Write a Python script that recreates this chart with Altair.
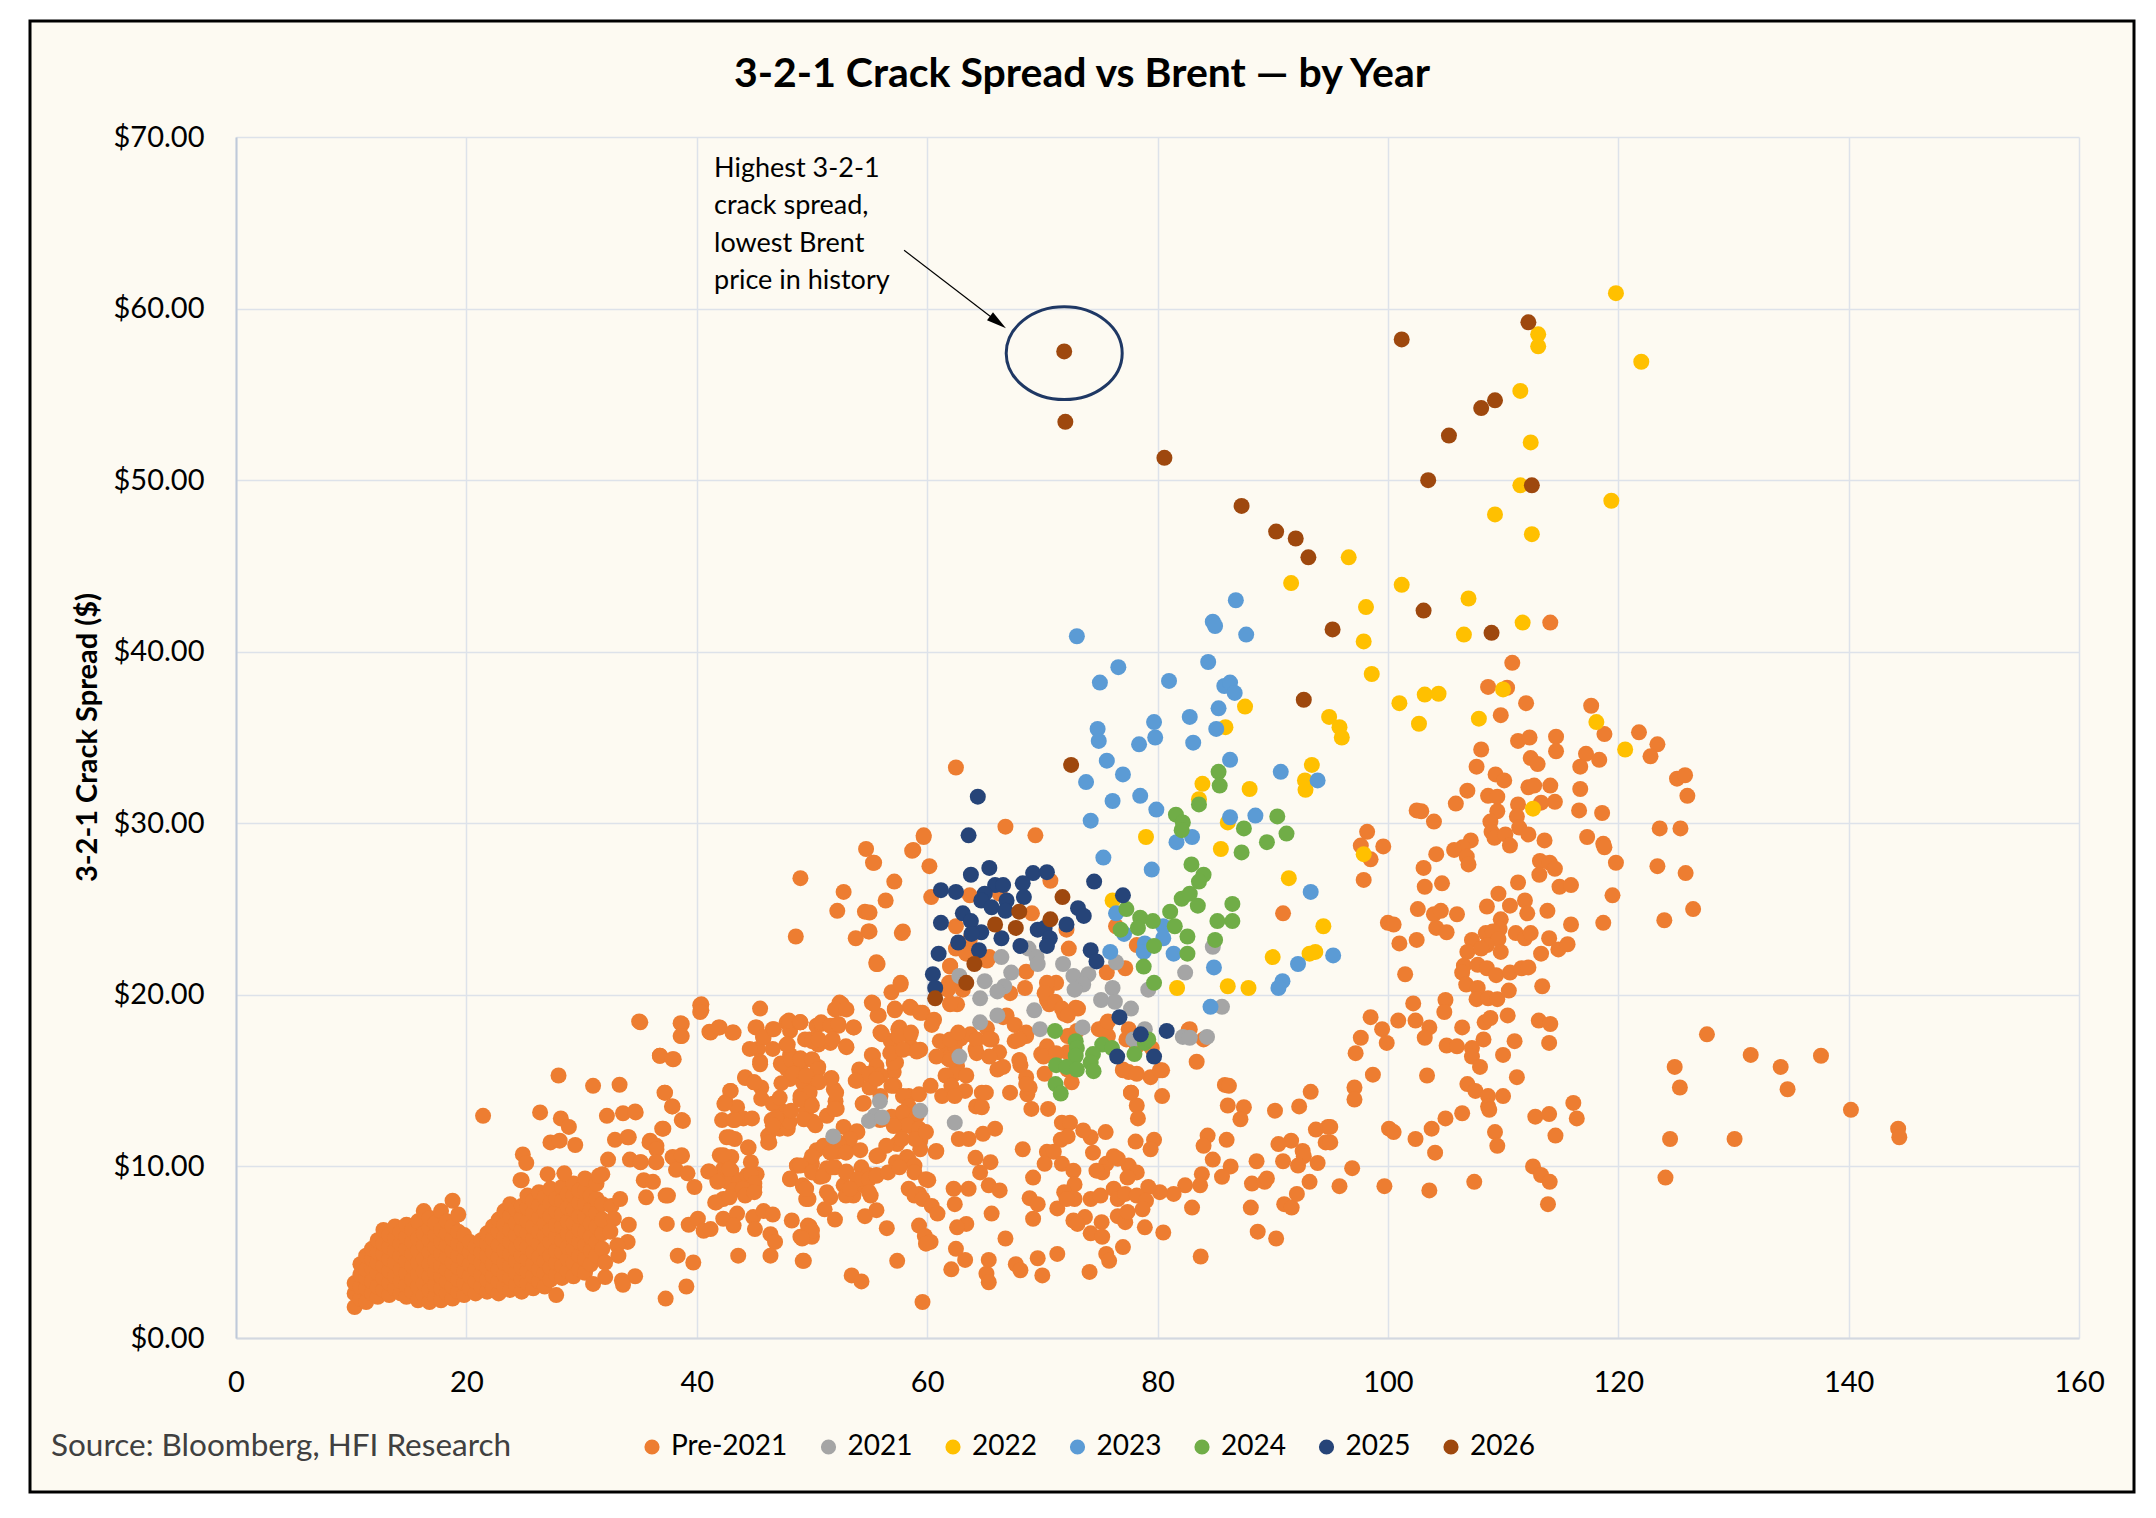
import altair as alt
import pandas as pd

SERIES = ["Pre-2021", "2021", "2022", "2023", "2024", "2025", "2026"]
COLORS = ["#ED7D31", "#A5A5A5", "#FFC000", "#5B9BD5", "#70AD47", "#264478", "#9E480E"]
X_TICKS = [0, 20, 40, 60, 80, 100, 120, 140, 160]
Y_TICKS = [0, 10, 20, 30, 40, 50, 60, 70]
TITLE = "3-2-1 Crack Spread vs Brent — by Year"
SOURCE = "Source: Bloomberg, HFI Research"

# ---- Pre-2021: dense low-price cluster, read column by column (Brent, [crack...])
PRE_BLOB_COLUMNS = [
    (10.3, [1.8, 2.6, 3.2]),
    (10.8, [2.3, 3.0, 3.7, 4.3]),
    (11.3, [2.1, 2.9, 3.5, 4.0, 4.8]),
    (11.8, [2.6, 3.3, 4.1, 4.6, 5.2]),
    (12.3, [2.4, 3.0, 3.8, 4.4, 5.0, 5.7]),
    (12.8, [2.8, 3.5, 4.2, 4.9, 5.5, 6.3]),
    (13.3, [2.5, 3.2, 3.9, 4.6, 5.3, 6.0]),
    (13.8, [2.9, 3.6, 4.4, 5.1, 5.8, 6.5]),
    (14.3, [2.6, 3.3, 4.0, 4.8, 5.5, 6.2]),
    (14.8, [2.4, 3.1, 3.8, 4.5, 5.2, 5.9, 6.6]),
    (15.3, [2.7, 3.4, 4.2, 4.9, 5.6, 6.3]),
    (15.8, [2.2, 3.0, 3.7, 4.4, 5.1, 5.8, 6.8]),
    (16.3, [2.5, 3.2, 3.9, 4.6, 5.4, 6.1, 7.4]),
    (16.8, [2.1, 2.8, 3.6, 4.3, 5.0, 5.7, 6.4, 7.0]),
    (17.3, [2.4, 3.1, 3.8, 4.5, 5.3, 6.0, 6.7]),
    (17.8, [2.2, 2.9, 3.6, 4.2, 4.9, 5.6, 6.3, 7.4]),
    (18.3, [2.6, 3.3, 4.0, 4.7, 5.4, 6.1, 6.8]),
    (18.8, [2.3, 3.0, 3.7, 4.4, 5.1, 5.8, 6.5, 8.0]),
    (19.3, [2.7, 3.4, 4.1, 4.8, 5.5, 6.2, 7.2]),
    (19.8, [2.5, 3.2, 3.9, 4.6, 5.3, 6.0]),
    (20.3, [2.9, 3.6, 4.3, 5.0, 5.6]),
    (20.8, [2.6, 3.3, 4.0, 4.7, 5.3]),
    (21.3, [3.0, 3.7, 4.4, 5.0, 5.7]),
    (21.8, [2.7, 3.4, 4.1, 4.8, 5.5, 6.1]),
    (22.3, [2.9, 3.6, 4.3, 5.0, 5.8, 6.5]),
    (22.8, [2.6, 3.3, 4.0, 4.7, 5.4, 6.2, 6.9]),
    (23.3, [3.0, 3.7, 4.4, 5.1, 5.9, 6.6, 7.4]),
    (23.8, [2.8, 3.5, 4.2, 4.9, 5.6, 6.3, 7.1, 7.8]),
    (24.3, [3.1, 3.8, 4.5, 5.2, 6.0, 6.7, 7.5]),
    (24.8, [2.7, 3.4, 4.1, 4.8, 5.5, 6.3, 7.0, 7.7, 9.2]),
    (25.3, [3.2, 3.9, 4.6, 5.3, 6.1, 6.8, 7.6, 8.3]),
    (25.8, [2.9, 3.6, 4.3, 5.0, 5.8, 6.5, 7.3, 8.0]),
    (26.3, [3.3, 4.0, 4.7, 5.5, 6.2, 7.0, 7.7, 8.5]),
    (26.8, [3.0, 3.8, 4.5, 5.2, 6.0, 6.7, 7.4, 8.2]),
    (27.3, [3.4, 4.1, 4.8, 5.6, 6.3, 7.1, 7.9, 8.7]),
    (27.8, [2.5, 3.7, 4.4, 5.1, 5.9, 6.6, 7.4, 8.1]),
    (28.3, [3.5, 4.2, 5.0, 5.7, 6.5, 7.2, 8.0, 8.8]),
    (28.8, [3.9, 4.6, 5.3, 6.1, 6.8, 7.6, 8.4]),
    (29.3, [3.6, 4.4, 5.2, 5.9, 6.7, 7.5, 8.3, 9.0]),
    (29.8, [4.0, 4.8, 5.6, 6.3, 7.1, 7.9, 8.6]),
    (30.3, [3.8, 4.6, 5.4, 6.2, 7.0, 7.8, 8.6, 9.3]),
    (30.8, [4.3, 5.1, 5.9, 6.7, 7.5, 8.3]),
    (31.3, [4.8, 5.6, 6.5, 7.3, 8.1, 9.0]),
    (31.8, [5.2, 6.1, 6.9, 7.8]),
]

PRE_LEFT = [
    (21.45, 12.95), (28.0, 15.3), (31.0, 14.7), (33.3, 14.76), (26.4, 13.15), (28.2, 12.8),
    (28.9, 12.3), (27.3, 11.4), (28.1, 11.5), (29.45, 11.25), (32.2, 12.95), (33.6, 13.1),
    (34.7, 13.15), (32.9, 11.55), (34.0, 11.7), (35.1, 18.4), (38.7, 18.3), (38.7, 17.6),
    (36.8, 16.45), (38.0, 16.25), (37.25, 14.3), (37.9, 13.5), (38.8, 12.65), (35.95, 11.5),
    (36.5, 11.2), (37.1, 12.2), (24.9, 10.7), (25.2, 10.2), (24.7, 9.2), (27.05, 9.55),
    (28.5, 9.6), (32.3, 10.4), (31.8, 9.55), (31.5, 9.45), (34.2, 10.4), (35.1, 10.25),
    (36.5, 10.25), (38.0, 10.5), (38.7, 10.6), (35.4, 9.2), (36.2, 9.1), (35.6, 8.2),
    (37.5, 8.3), (37.4, 6.65), (39.3, 6.6), (40.1, 6.95), (40.6, 6.25), (41.2, 6.35),
    (38.35, 4.8), (39.7, 4.4), (39.1, 3.0), (37.3, 2.3), (34.65, 3.6), (33.5, 3.35),
    (33.6, 3.1), (31.0, 3.15), (32.05, 3.55), (34.1, 6.6), (34.0, 5.6), (33.1, 5.4),
    (33.2, 4.8), (32.05, 4.4), (32.6, 7.7), (33.35, 8.1), (32.8, 6.95), (32.5, 6.2),
    (40.4, 19.45), (40.4, 19.1), (41.2, 17.8), (42.0, 18.1), (43.2, 17.8), (45.5, 19.2),
    (45.2, 18.1), (46.6, 18.0), (45.8, 17.5), (45.3, 16.85), (46.6, 16.85),
]

PRE_MID_LEFT = [
    (44.6, 16.85), (45.5, 16.1), (44.2, 15.2), (44.95, 14.9), (45.6, 14.6), (42.95, 14.4),
    (42.5, 13.75), (43.5, 13.45), (42.2, 12.7), (43.2, 12.7), (44.05, 12.8), (44.8, 12.8),
    (42.6, 11.7), (43.3, 11.6), (44.5, 11.1), (46.2, 11.4), (42.0, 10.65), (43.0, 10.55),
    (42.3, 9.85), (43.0, 9.75), (44.7, 10.25), (45.2, 9.55), (41.0, 9.7), (41.8, 9.2),
    (42.7, 9.1), (43.7, 9.2), (44.4, 9.5), (41.6, 7.9), (42.3, 8.1), (43.2, 8.6),
    (44.5, 8.7), (45.0, 8.8), (42.3, 6.95), (43.5, 7.25), (44.9, 7.05), (45.8, 7.4),
    (46.6, 7.2), (43.2, 6.55), (45.05, 6.35), (46.4, 6.05), (46.8, 5.6), (43.6, 4.8),
    (46.4, 4.8), (49.2, 4.5), (48.25, 6.85), (49.0, 5.9), (49.8, 6.5), (50.0, 5.9),
    (48.1, 9.25), (49.25, 8.8), (49.7, 8.1), (48.7, 10.05), (49.8, 10.25), (46.2, 11.8),
    (47.2, 12.2), (47.9, 12.2), (48.05, 12.6), (47.35, 13.25), (46.5, 12.7), (47.8, 15.7),
    (49.0, 15.8), (48.1, 16.5), (49.0, 16.3), (47.3, 16.0), (47.8, 18.4), (49.0, 18.4),
    (48.1, 17.9), (49.8, 17.4), (50.4, 18.2), (48.1, 15.1), (49.5, 14.7), (49.0, 14.1),
    (49.8, 13.75),
]

PRE_UPPER_MID = [
    (59.7, 29.3), (58.8, 28.45), (54.7, 28.5), (55.3, 27.7), (60.2, 27.5), (57.15, 26.6),
    (49.0, 26.8), (52.75, 26.0), (56.4, 25.5), (60.35, 25.7), (52.2, 24.9), (54.6, 24.85),
    (48.6, 23.4), (53.8, 23.3), (54.9, 23.7), (57.9, 23.7), (55.6, 21.9), (57.7, 20.7),
    (56.9, 20.15), (62.0, 21.7), (62.5, 22.7), (61.9, 20.7),
    (40.3, 19.4), (40.3, 19.0), (35.0, 18.45), (38.6, 18.35), (38.6, 17.6), (41.1, 17.85),
    (41.9, 18.1), (43.1, 17.8), (45.1, 18.1), (45.75, 17.55), (46.7, 18.0), (48.0, 18.5),
    (48.95, 18.4), (47.8, 17.1), (50.75, 18.3), (51.8, 18.2), (52.4, 19.55), (52.7, 19.2),
    (52.3, 18.2), (53.65, 18.1), (55.3, 19.5), (55.7, 18.8), (57.2, 19.2), (58.5, 19.3),
    (59.6, 18.95), (60.6, 18.55),
    (49.4, 17.4), (50.55, 17.1), (51.6, 17.2), (53.0, 16.95), (56.1, 17.7), (56.85, 17.3),
    (57.6, 18.1), (58.5, 17.6), (58.6, 16.95), (59.4, 16.8), (36.8, 16.45), (37.9, 16.25),
    (47.9, 17.1), (45.5, 15.95), (47.35, 15.95), (48.2, 16.2), (49.1, 16.05), (50.05, 16.2),
    (50.55, 15.8), (55.2, 16.5), (57.3, 16.05), (57.1, 15.5),
    (44.2, 15.15), (45.0, 14.9), (47.35, 14.85), (48.4, 15.4), (49.25, 14.85), (50.25, 15.1),
    (51.7, 15.15), (53.9, 15.0), (54.6, 15.4), (55.9, 15.3), (57.15, 14.7), (55.0, 14.6),
    (42.9, 14.4), (42.4, 13.65), (43.3, 12.7), (37.2, 14.3), (37.85, 13.5), (38.7, 12.7),
    (34.65, 13.2), (45.6, 13.95), (46.6, 13.65), (47.2, 14.0), (48.2, 13.25), (46.9, 12.85),
    (46.6, 12.4), (49.1, 14.1), (49.5, 13.2), (50.1, 12.6), (51.9, 14.5), (52.05, 13.8),
    (52.15, 13.35), (54.4, 13.65), (52.75, 12.3), (53.9, 12.05), (55.9, 12.7), (56.9, 12.9),
    (57.7, 12.4), (58.4, 14.1), (59.3, 14.2), (60.3, 14.7), (61.3, 14.1), (58.85, 13.0),
    (58.3, 13.25), (59.0, 12.1), (59.4, 11.5), (60.8, 10.9),
    (34.1, 11.7), (35.9, 11.4), (37.0, 12.2), (36.5, 11.0), (35.15, 10.25), (36.45, 10.25),
    (37.9, 10.55), (38.7, 10.65), (38.2, 9.8), (39.2, 9.6), (39.8, 8.8), (41.1, 9.7),
    (41.8, 9.1), (42.85, 11.7), (44.45, 11.1), (46.3, 11.4), (42.3, 10.65), (42.85, 9.85),
    (44.7, 9.55), (45.0, 9.0), (44.0, 8.7),
    (48.7, 10.05), (50.0, 10.15), (51.3, 9.9), (52.0, 9.95), (53.0, 9.7), (54.3, 9.95),
    (54.9, 9.5), (55.6, 9.5), (50.4, 10.95), (52.15, 10.85), (53.3, 11.1), (54.2, 10.95),
    (55.8, 10.65), (57.4, 11.3), (58.25, 10.55), (59.4, 11.0), (57.4, 10.15), (48.1, 9.3),
    (49.2, 8.9), (49.5, 8.1), (50.7, 9.4), (51.6, 8.2), (52.75, 8.9), (53.6, 8.3),
    (54.5, 8.9), (55.1, 8.3), (58.4, 8.7), (59.3, 8.4), (60.1, 9.2), (41.7, 7.9),
    (42.85, 8.2), (44.2, 8.3), (45.0, 8.5), (37.3, 8.3),
]

PRE_50_60 = [
    (55.6, 21.8), (57.7, 20.6), (52.6, 19.45), (52.0, 19.15), (53.0, 19.15), (55.2, 19.55),
    (55.8, 18.8), (57.2, 19.15), (58.6, 19.25), (59.4, 18.95), (49.0, 18.4), (50.8, 18.4),
    (51.6, 18.2), (52.3, 18.3), (53.6, 18.1), (50.0, 17.3), (50.6, 17.4), (51.8, 17.4),
    (52.95, 17.0), (55.95, 17.8), (57.5, 18.0), (58.4, 17.7), (56.9, 17.3), (58.6, 16.9),
    (59.1, 16.75), (55.3, 16.45), (57.1, 16.05), (55.6, 15.85), (54.1, 15.65), (54.95, 15.4),
    (55.95, 15.3), (49.0, 16.25), (50.0, 16.25), (50.5, 15.65), (51.6, 15.1), (52.1, 14.3),
    (49.5, 15.3), (50.6, 14.9), (49.8, 14.3), (53.8, 15.0), (55.6, 15.1), (56.9, 14.7),
    (55.95, 14.1), (54.5, 13.7), (57.9, 14.1), (58.4, 13.5), (57.9, 13.15), (59.1, 12.95),
    (58.3, 12.4), (59.3, 12.2), (58.95, 11.6), (59.9, 12.0), (49.0, 13.9), (50.0, 13.55),
    (49.3, 12.75), (50.3, 12.4), (51.3, 12.95), (51.95, 13.35), (53.95, 12.0), (53.3, 11.6),
    (52.3, 11.4), (51.0, 11.2), (50.0, 10.6), (51.6, 10.8), (52.95, 10.8), (56.1, 12.75),
    (57.1, 12.35), (57.8, 11.6), (56.45, 11.2), (55.6, 10.6), (57.3, 10.25), (58.4, 10.4),
    (58.9, 10.05), (49.0, 10.05), (50.0, 9.65), (51.0, 9.45), (51.8, 9.95), (52.95, 9.65),
    (53.95, 9.25), (54.95, 9.25), (55.6, 9.45), (56.6, 9.65), (57.6, 9.95), (58.9, 9.65),
    (59.9, 9.25), (49.5, 8.7), (51.3, 8.5), (52.95, 8.3), (54.95, 8.5), (53.3, 8.7),
    (58.9, 8.3), (59.6, 8.1), (60.4, 7.7), (60.9, 7.25), (51.1, 7.5), (55.6, 7.45),
    (49.65, 6.55), (50.0, 6.25), (49.15, 5.8), (49.3, 4.5), (57.4, 4.5), (53.45, 3.65),
    (54.3, 3.3), (59.6, 2.1), (59.3, 6.55), (59.8, 5.95), (60.3, 5.6), (59.9, 5.5),
    (60.75, 10.85), (52.0, 6.9), (54.6, 7.1), (56.5, 6.4),
]

PRE_60_100 = [
    (62.0, 19.45), (62.6, 19.45), (65.6, 17.4), (66.9, 18.8), (67.6, 17.3), (68.6, 17.6),
    (70.4, 19.7), (70.6, 19.45), (71.9, 18.9), (73.1, 19.2), (75.5, 18.2), (75.7, 17.6),
    (77.5, 18.0), (82.8, 18.0), (83.4, 16.1),
    (85.85, 14.75), (86.2, 14.7), (86.1, 13.55), (87.5, 13.45), (87.2, 12.75), (90.2, 13.25),
    (92.3, 13.5), (93.3, 14.35), (93.75, 12.15), (94.8, 12.3), (94.6, 11.4), (91.6, 11.5),
    (90.5, 11.3), (92.6, 10.9), (92.7, 10.6), (92.2, 10.05), (93.9, 10.2), (88.6, 10.3),
    (90.9, 10.3), (84.35, 11.8), (84.0, 11.2), (86.0, 11.55), (84.8, 10.4), (86.35, 10.0),
    (85.6, 9.4), (83.85, 9.55), (83.7, 8.9), (82.4, 8.9), (81.4, 8.4), (80.2, 8.5),
    (79.2, 8.8), (83.0, 7.6), (88.2, 9.0), (89.3, 9.1), (89.5, 9.3), (88.1, 7.6),
    (91.0, 7.8), (91.65, 7.6), (92.1, 8.4), (93.2, 9.1), (88.7, 6.2), (90.3, 5.8),
    (83.75, 4.75), (80.5, 6.15),
    (78.2, 13.55), (78.3, 12.8), (77.7, 14.3), (80.4, 14.1), (78.1, 11.45), (79.7, 11.55),
    (79.4, 11.0), (77.5, 10.05), (78.2, 9.65), (77.4, 9.35), (76.55, 10.45), (75.55, 10.15),
    (75.2, 9.65), (74.7, 9.75), (76.2, 10.6), (75.5, 12.0), (74.2, 11.7), (73.55, 12.1),
    (74.4, 10.8), (71.7, 12.55), (72.4, 12.55), (71.6, 11.55), (72.2, 11.75), (70.4, 10.85),
    (71.0, 10.85), (70.2, 10.15), (71.7, 10.15), (72.7, 9.75), (72.8, 8.95), (71.9, 8.5),
    (72.8, 8.1), (74.2, 8.1), (75.05, 8.3), (75.15, 6.75), (73.7, 7.05), (76.2, 8.7),
    (76.55, 8.1), (77.2, 8.4), (78.2, 8.3), (79.0, 8.0), (78.7, 7.5), (76.55, 7.1),
    (77.2, 6.75), (78.9, 6.45), (77.4, 7.35), (74.2, 6.1), (75.2, 5.9), (77.0, 5.3),
    (75.55, 4.9), (75.8, 4.5), (74.1, 3.85), (72.7, 6.85), (73.05, 6.65), (71.3, 7.55),
    (72.1, 8.1), (68.9, 8.15), (69.6, 7.8), (69.2, 9.35), (69.2, 6.95), (66.8, 5.8),
    (69.6, 4.65), (71.3, 4.9), (70.0, 3.65), (67.7, 4.3), (68.1, 3.95), (65.15, 3.75),
    (65.35, 3.25), (65.35, 4.55), (63.3, 4.55), (62.1, 4.0), (62.5, 5.2), (63.4, 6.65),
    (62.6, 6.45), (65.6, 7.25), (62.3, 8.7), (63.6, 8.7), (62.4, 7.8), (64.6, 9.65),
    (65.35, 8.9), (66.3, 8.6), (68.3, 11.0), (65.5, 10.25), (64.2, 10.5), (63.6, 11.6),
    (64.85, 11.9), (65.9, 12.2), (62.75, 11.6),
    (61.8, 16.85), (62.4, 17.05), (62.9, 17.45), (63.75, 17.7), (64.2, 16.85), (61.8, 16.3),
    (62.6, 15.85), (62.4, 15.4), (61.6, 15.3), (63.4, 15.3), (62.1, 14.7), (63.3, 14.4),
    (62.4, 14.1), (64.75, 14.3), (65.1, 14.3), (64.25, 13.5), (64.75, 13.45), (67.2, 14.3),
    (68.7, 14.2), (68.9, 14.6), (69.05, 13.35), (70.5, 13.35), (68.1, 15.9), (68.6, 15.2),
    (68.6, 14.8), (66.1, 15.65), (66.25, 16.65), (69.9, 16.55), (70.4, 17.0), (70.2, 15.4),
    (72.2, 17.6), (72.2, 16.65), (72.2, 15.65), (72.55, 14.9), (77.5, 15.5), (77.7, 14.3),
    (77.0, 15.65), (79.4, 15.2), (80.4, 15.6), (74.9, 18.0), (72.9, 19.25), (70.4, 20.3),
    (71.2, 20.7), (79.5, 16.9),
]

PRE_60_80_UPPER = [
    (62.5, 33.25), (66.8, 29.8), (69.4, 29.3), (59.7, 29.2), (58.7, 28.4), (55.4, 27.7),
    (57.8, 23.6), (55.7, 21.8), (55.0, 24.8), (55.0, 23.7), (70.7, 26.65), (63.7, 25.8),
    (66.3, 25.9), (69.1, 24.75), (72.1, 23.8), (72.3, 22.7), (62.0, 21.65), (62.3, 20.7),
    (61.8, 20.3), (63.4, 22.4), (65.4, 22.2), (68.6, 21.35), (68.5, 20.4), (67.2, 20.1),
    (70.4, 20.7), (70.2, 20.1), (71.1, 19.6), (71.7, 19.2), (72.2, 18.8), (75.6, 21.3),
    (77.2, 21.55), (78.2, 22.9), (76.4, 24.0), (90.9, 24.75), (100.0, 24.2),
    (62.5, 24.0), (63.7, 23.2), (65.2, 22.0), (63.1, 20.3), (62.0, 19.5),
    (55.3, 19.5), (57.2, 19.1), (56.0, 17.8), (57.5, 17.6), (58.6, 17.8), (60.4, 18.25),
    (61.1, 17.3), (62.0, 17.4), (62.7, 17.8), (64.3, 17.4), (65.2, 18.05), (66.6, 18.7),
    (67.6, 18.25), (68.6, 17.8), (65.4, 17.4), (68.0, 17.4), (72.4, 17.6), (73.0, 17.9),
    (75.3, 17.95), (75.7, 18.45), (77.3, 17.4), (78.2, 17.0), (82.7, 17.95), (84.0, 17.4),
    (56.8, 16.6), (57.9, 16.8), (59.1, 16.7), (60.8, 16.4), (62.0, 16.2), (64.3, 16.6),
    (65.4, 16.4), (66.6, 15.8), (68.0, 16.2), (70.1, 16.4), (71.2, 16.6), (77.0, 15.6),
    (78.2, 15.4), (80.2, 15.6),
]

PRE_RIGHT = [
    (114.1, 41.7), (110.8, 39.35), (108.7, 37.95), (110.35, 37.9), (112.0, 37.0), (109.8, 36.3),
    (117.65, 36.85), (118.8, 35.2), (121.8, 35.3), (123.4, 34.6), (122.8, 33.9), (108.1, 34.3),
    (111.3, 34.8), (112.3, 35.0), (114.6, 35.05), (114.6, 34.2), (107.7, 33.3), (112.4, 33.8),
    (113.0, 33.45), (117.2, 34.05), (116.7, 33.3), (118.35, 33.7), (109.35, 32.85), (110.1, 32.5),
    (125.1, 32.6), (125.8, 32.8), (126.0, 31.6), (106.9, 31.9), (112.2, 32.1), (112.7, 32.2),
    (114.1, 32.2), (114.5, 31.25), (116.7, 32.0), (108.7, 31.6), (109.5, 31.55), (105.9, 31.15),
    (111.3, 31.1), (113.3, 31.2), (109.5, 30.7), (111.2, 30.4), (102.5, 30.75), (102.9, 30.7),
    (116.6, 30.75), (118.6, 30.6), (104.0, 30.1), (108.9, 30.1), (109.0, 29.5), (109.25, 29.15),
    (111.4, 29.75), (112.2, 29.35), (110.2, 29.35), (110.6, 28.7), (113.6, 29.0), (117.3, 29.2),
    (118.7, 28.8), (118.8, 28.6), (123.6, 29.7), (125.4, 29.7), (98.2, 29.5), (97.65, 28.7),
    (99.6, 28.65), (98.5, 27.9), (107.2, 29.0), (106.5, 28.6), (105.75, 28.45), (106.85, 28.05),
    (107.0, 27.6), (104.2, 28.2), (103.1, 27.4), (113.2, 27.8), (114.05, 27.7), (114.5, 27.35),
    (113.15, 27.0), (119.8, 27.7), (123.4, 27.5), (125.85, 27.1), (97.9, 26.7), (103.2, 26.3),
    (104.7, 26.5), (111.3, 26.55), (114.9, 26.3), (115.9, 26.4), (109.6, 25.9), (119.5, 25.8),
    (108.6, 25.15), (110.6, 25.2), (111.9, 25.5), (112.1, 24.75), (102.6, 25.0), (104.0, 24.7),
    (104.6, 24.9), (106.0, 24.7), (113.85, 24.9), (126.5, 25.0), (100.5, 24.1), (104.2, 23.9),
    (105.1, 23.65), (109.8, 24.4), (109.7, 23.85), (108.5, 23.6), (109.1, 23.7), (111.1, 23.6),
    (111.9, 23.3), (112.4, 23.6), (115.9, 24.1), (118.7, 24.2), (124.0, 24.35), (101.0, 23.0),
    (102.5, 23.2), (107.3, 23.2), (109.6, 23.25), (108.6, 22.9), (114.0, 23.3), (114.8, 22.65),
    (115.6, 22.95), (106.9, 22.5), (108.1, 22.7), (109.8, 22.5), (113.3, 22.4), (101.5, 21.2),
    (106.6, 21.7), (106.45, 21.3), (107.8, 21.75), (108.6, 21.55), (109.4, 21.15), (110.6, 21.3),
    (111.6, 21.55), (112.2, 21.6), (106.8, 20.6), (107.8, 20.4), (107.7, 19.75), (108.7, 19.8),
    (109.5, 19.75), (110.5, 20.25), (113.4, 20.5), (102.2, 19.5), (105.0, 19.7), (104.9, 19.0),
    (98.5, 18.7), (100.9, 18.5), (102.4, 18.5), (103.6, 18.1), (103.2, 17.5), (99.5, 18.0),
    (99.9, 17.2), (97.65, 17.5), (97.2, 16.6), (106.45, 18.1), (108.4, 18.4), (108.9, 18.65),
    (110.4, 18.8), (113.1, 18.5), (114.1, 18.3), (108.3, 17.4), (111.0, 17.3), (114.0, 17.2),
    (105.1, 17.05), (106.0, 17.0), (107.3, 16.9), (107.3, 16.4), (108.0, 15.8), (110.0, 16.5),
    (98.7, 15.35), (103.4, 15.3), (111.2, 15.2), (97.1, 14.6), (97.1, 13.9), (106.9, 14.8),
    (107.6, 14.4), (108.7, 14.1), (108.7, 13.5), (108.8, 13.3), (110.0, 14.1), (116.1, 13.7),
    (116.4, 12.8), (112.8, 12.9), (114.0, 13.05), (106.45, 13.1), (105.0, 12.8), (100.1, 12.2),
    (100.5, 12.0), (103.8, 12.2), (102.4, 11.6), (109.3, 12.0), (109.5, 11.2), (114.55, 11.8),
    (104.1, 10.8), (96.9, 9.9), (95.8, 8.85), (99.7, 8.85), (103.6, 8.6), (107.5, 9.1),
    (112.6, 10.0), (113.3, 9.5), (114.05, 9.1), (113.9, 7.8), (95.0, 12.3), (95.0, 11.4),
    (127.7, 17.7), (131.5, 16.5), (134.1, 15.8), (137.6, 16.45), (124.9, 15.8), (125.35, 14.6),
    (134.7, 14.5), (140.2, 13.3), (144.3, 12.2), (144.4, 11.7), (124.5, 11.6), (130.1, 11.6),
    (124.1, 9.35),
]

Y2021 = [
    (68.8, 22.7), (69.5, 22.2), (69.6, 21.8), (66.45, 22.2), (67.3, 21.3), (71.8, 21.8),
    (76.4, 21.9), (62.8, 21.1), (65.0, 20.8), (64.6, 19.8), (66.7, 20.5), (66.1, 20.2),
    (72.7, 21.1), (74.0, 21.2), (73.55, 20.6), (72.8, 20.3), (76.1, 20.4), (75.1, 19.7),
    (76.3, 19.6), (77.7, 19.2), (84.8, 22.8), (82.4, 21.3), (79.2, 20.3), (85.6, 19.3),
    (69.3, 19.1), (66.1, 18.8), (64.6, 18.4), (73.5, 18.1), (69.8, 18.0), (78.9, 18.0),
    (82.2, 17.55), (82.8, 17.5), (84.3, 17.55), (62.8, 16.4), (77.9, 17.4),
    (55.9, 13.8), (55.45, 12.95), (54.95, 12.65), (56.1, 12.85), (59.4, 13.25), (62.4, 12.55),
    (51.85, 11.75),
]

Y2022 = [
    (119.8, 60.9), (113.05, 58.5), (113.05, 57.8), (122.0, 56.9), (111.5, 55.2), (112.4, 52.2),
    (111.5, 49.7), (109.3, 48.0), (112.5, 46.85), (119.4, 48.8), (96.6, 45.5), (91.6, 44.0),
    (101.2, 43.9), (107.0, 43.1), (98.1, 42.6), (97.9, 40.6), (111.7, 41.7), (106.6, 41.0),
    (98.6, 38.7), (101.0, 37.0), (103.2, 37.5), (104.4, 37.55), (110.0, 37.8), (102.7, 35.8),
    (107.9, 36.1), (118.1, 35.9), (120.6, 34.3), (112.6, 30.85), (87.6, 36.8), (94.9, 36.2),
    (95.8, 35.6), (96.0, 35.0), (93.4, 33.4), (92.8, 32.5), (92.85, 31.95), (88.0, 32.0),
    (85.9, 35.6), (83.9, 32.3), (83.6, 31.4), (86.1, 30.05), (79.0, 29.2), (85.5, 28.5),
    (97.9, 28.2), (91.4, 26.8), (76.1, 25.5), (94.4, 24.0), (90.0, 22.2), (93.2, 22.4),
    (93.7, 22.5), (86.1, 20.5), (87.9, 20.4), (81.7, 20.4),
]

Y2023 = [
    (73.0, 40.9), (86.8, 43.0), (84.8, 41.75), (85.0, 41.5), (87.7, 41.0), (76.6, 39.1),
    (75.0, 38.2), (81.0, 38.3), (84.4, 39.4), (85.8, 38.0), (86.3, 38.2), (86.7, 37.6),
    (85.3, 36.7), (82.8, 36.2), (85.1, 35.5), (74.8, 35.5), (74.9, 34.8), (79.7, 35.9),
    (79.8, 35.0), (78.4, 34.6), (83.1, 34.7), (86.3, 33.7), (75.6, 33.65), (77.0, 32.85),
    (73.8, 32.4), (90.7, 33.0), (93.9, 32.5), (76.1, 31.3), (78.5, 31.6), (79.9, 30.8),
    (74.2, 30.15), (86.3, 30.35), (88.5, 30.45), (83.0, 29.2), (81.65, 28.9), (75.3, 28.0),
    (79.5, 27.3), (93.3, 26.0), (76.4, 24.75), (77.1, 23.55), (80.5, 24.0), (80.5, 23.3),
    (78.9, 23.0), (78.8, 22.5), (75.9, 22.5), (81.4, 22.4), (95.25, 22.3), (92.2, 21.8),
    (84.9, 21.6), (90.85, 20.8), (90.5, 20.4), (84.6, 19.3),
]

Y2024 = [
    (85.3, 33.0), (85.4, 32.2), (83.6, 31.1), (81.6, 30.5), (82.2, 30.05), (82.1, 29.6),
    (87.5, 29.7), (90.4, 30.4), (91.2, 29.4), (89.5, 28.9), (87.3, 28.3), (82.95, 27.6),
    (84.0, 27.0), (83.6, 26.6), (82.1, 25.6), (82.8, 25.9), (83.5, 25.2), (86.5, 25.3),
    (85.2, 24.3), (86.5, 24.3), (81.1, 24.85), (81.5, 24.0), (82.6, 23.4), (82.6, 22.4),
    (85.0, 23.2), (77.3, 25.0), (78.5, 24.5), (79.6, 24.3), (78.3, 23.9), (76.8, 23.8),
    (79.7, 22.85), (78.8, 21.65), (79.7, 20.7), (71.1, 17.9), (72.9, 17.3), (73.0, 16.9),
    (75.2, 17.1), (76.05, 16.9), (72.9, 16.45), (74.4, 16.55), (74.2, 16.05), (71.2, 15.9),
    (72.1, 15.8), (73.0, 15.65), (74.45, 15.55), (71.15, 14.8), (71.6, 14.25), (78.0, 16.55),
    (78.9, 17.2), (79.2, 17.4),
]

Y2025 = [
    (64.4, 31.55), (63.6, 29.3), (65.4, 27.4), (63.8, 27.0), (69.2, 27.1), (70.4, 27.15),
    (74.5, 26.6), (61.2, 26.1), (62.5, 26.0), (65.9, 26.4), (66.6, 26.4), (68.3, 26.5),
    (68.4, 25.7), (65.0, 25.9), (64.7, 25.5), (66.9, 25.5), (65.6, 25.1), (66.8, 24.9),
    (77.0, 25.8), (73.1, 25.05), (73.6, 24.6), (61.2, 24.2), (63.1, 24.75), (63.8, 24.3),
    (72.1, 24.1), (69.6, 23.8), (70.2, 23.9), (70.65, 23.3), (70.4, 22.85), (66.45, 23.3),
    (64.7, 23.65), (63.85, 23.55), (62.7, 23.05), (64.5, 22.6), (68.1, 22.85), (61.0, 22.4),
    (74.2, 22.6), (74.7, 21.95), (60.5, 21.2), (60.7, 20.4), (76.7, 18.7), (78.55, 17.7),
    (80.8, 17.9), (76.5, 16.4), (79.7, 16.4),
]

Y2026 = [
    (71.9, 57.5), (72.0, 53.4), (80.6, 51.3), (87.3, 48.5), (90.3, 47.0), (92.0, 46.6),
    (93.1, 45.5), (95.2, 41.3), (92.7, 37.2), (101.2, 58.2), (112.2, 59.2), (109.3, 54.65),
    (108.1, 54.2), (105.3, 52.6), (103.5, 50.0), (112.5, 49.7), (103.1, 42.4), (109.0, 41.1),
    (72.5, 33.4), (71.75, 25.7), (68.0, 24.85), (65.9, 24.1), (67.7, 23.9), (70.7, 24.4),
    (64.1, 21.8), (63.4, 20.7), (60.7, 19.8),
]

ANNOTATION_LINES = ["Highest 3-2-1", "crack spread,", "lowest Brent", "price in history"]
ANNOTATION_X = 41.5
ANNOTATION_Y = [68.15, 65.97, 63.79, 61.6]
HIGHLIGHT = (71.9, 57.4)
ARROW_FROM = (58.0, 63.4)
ARROW_HEAD = (66.15, 59.2)

# ---------------- build table ----------------
pre = []
for b, cs in PRE_BLOB_COLUMNS:
    pre += [(b, c) for c in cs]
pre += PRE_LEFT + PRE_MID_LEFT + PRE_UPPER_MID + PRE_50_60 + PRE_60_100 + PRE_60_80_UPPER + PRE_RIGHT

groups = [pre, Y2021, Y2022, Y2023, Y2024, Y2025, Y2026]
rows = []
for name, pts in zip(SERIES, groups):
    for b, c in pts:
        rows.append({"brent": b, "crack": c, "series": name})
df = pd.DataFrame(rows)

FONT = "Lato"
CREAM = "#FDFAF2"
GRID = "#DDE2EA"

x_enc = alt.X("brent:Q", scale=alt.Scale(domain=[0, 160], nice=False, zero=False),
              axis=alt.Axis(values=X_TICKS, format="d", title=None, labelFont=FONT, labelFontSize=29,
                            labelColor="#000000", labelPadding=30, tickSize=0, grid=True, gridColor=GRID,
                            gridWidth=1.5, domainColor="#D3D8E0", domainWidth=2, labelFlush=False))
y_enc = alt.Y("crack:Q", scale=alt.Scale(domain=[0, 70], nice=False),
              axis=alt.Axis(values=Y_TICKS, format="$.2f", title="3-2-1 Crack Spread ($)",
                            titleFont=FONT, titleFontSize=29, titleFontWeight="bold", titleColor="#000000",
                            titleAngle=270, titleX=-149, titleY=600, titleAlign="center",
                            titleBaseline="middle", labelFont=FONT, labelFontSize=29, labelColor="#000000",
                            labelPadding=32, tickSize=0, grid=True, gridColor=GRID, gridWidth=1.5,
                            domainColor="#BFC9D9", domainWidth=2, labelFlush=False))

points = alt.Chart(df).mark_circle(size=256, opacity=1).encode(
    x=x_enc,
    y=y_enc,
    color=alt.Color("series:N", scale=alt.Scale(domain=SERIES, range=COLORS),
                    legend=alt.Legend(title=None, orient="none", legendX=402, legendY=1296,
                                      direction="horizontal", labelFont=FONT, labelFontSize=28,
                                      labelColor="#000000", symbolType="circle", symbolSize=230,
                                      symbolStrokeWidth=0, columnPadding=26.5, labelOffset=5, padding=0)),
)

one = pd.DataFrame({"k": [0]})

mask = alt.Chart(one).mark_rect(fill=None, stroke="#FFFFFF", strokeWidth=50).encode(
    x=alt.value(-231), x2=alt.value(1923), y=alt.value(-141), y2=alt.value(1380))
frame = alt.Chart(one).mark_rect(fill=None, stroke="#000000", strokeWidth=3).encode(
    x=alt.value(-206), x2=alt.value(1898), y=alt.value(-116), y2=alt.value(1355))

title = alt.Chart(one).mark_text(align="center", baseline="alphabetic", font=FONT, fontSize=41,
                                 fontWeight="bold", color="#000000").encode(
    x=alt.value(846), y=alt.value(-50), text=alt.value(TITLE))

hl = pd.DataFrame({"brent": [HIGHLIGHT[0]], "crack": [HIGHLIGHT[1]]})
ellipse = alt.Chart(hl).mark_point(
    shape="M -1 0 A 1 0.8 0 1 1 1 0 A 1 0.8 0 1 1 -1 0 Z", size=13456, filled=False,
    stroke="#1F3864", strokeWidth=3, opacity=1).encode(x="brent:Q", y="crack:Q")

arr = pd.DataFrame({"x": [ARROW_FROM[0]], "y": [ARROW_FROM[1]], "x2": [ARROW_HEAD[0]], "y2": [ARROW_HEAD[1]]})
arrow_line = alt.Chart(arr).mark_rule(color="#000000", strokeWidth=1.2).encode(
    x="x:Q", y="y:Q", x2="x2:Q", y2="y2:Q")
head = pd.DataFrame({"brent": [ARROW_HEAD[0]], "crack": [ARROW_HEAD[1]]})
arrow_head = alt.Chart(head).mark_point(
    shape="M 0 -1 L 0.5 1 L -0.5 1 Z", size=400, filled=True, color="#000000", opacity=1,
    angle=127).encode(x="brent:Q", y="crack:Q")

ann = pd.DataFrame({"brent": [ANNOTATION_X] * 4, "crack": ANNOTATION_Y, "t": ANNOTATION_LINES})
ann_text = alt.Chart(ann).mark_text(align="left", baseline="middle", font=FONT, fontSize=27,
                                    color="#000000").encode(x="brent:Q", y="crack:Q", text="t:N")

source = alt.Chart(one).mark_text(align="left", baseline="middle", font=FONT, fontSize=31.5,
                                  color="#404040").encode(
    x=alt.value(-185), y=alt.value(1310), text=alt.value(SOURCE))

chart = alt.layer(mask, points, ellipse, arrow_line, arrow_head, ann_text, source, title, frame).properties(
    width=1843, height=1201,
    autosize=alt.AutoSizeParams(type="none"),
    padding={"left": 228, "top": 129, "right": 69, "bottom": 172},
    background=CREAM,
).configure_view(stroke=None, fill=None)

chart.save("out.html", embed_options={"renderer": "svg", "actions": False})
